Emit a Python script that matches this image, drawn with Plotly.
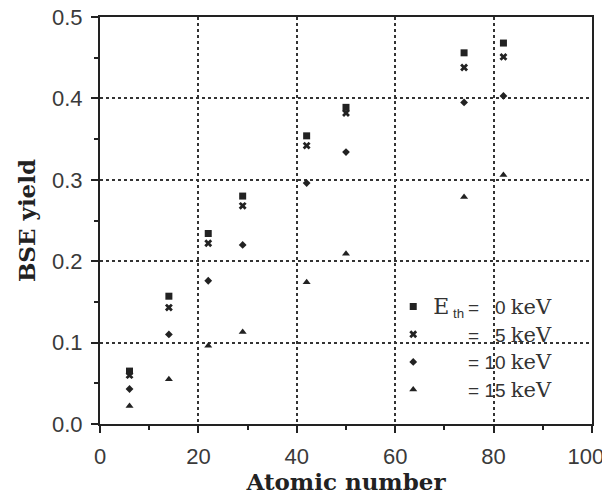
import plotly.graph_objects as go

# Atomic numbers of the targets (C, Si, Ti, Cu, Mo, Sn, W, Pb)
atomic_number = [6, 14, 22, 29, 42, 50, 74, 82]

# BSE yield for each threshold energy
yield_0keV = [0.065, 0.157, 0.234, 0.280, 0.354, 0.389, 0.456, 0.468]
yield_5keV = [0.060, 0.143, 0.222, 0.268, 0.342, 0.382, 0.438, 0.451]
yield_10keV = [0.043, 0.110, 0.176, 0.220, 0.296, 0.334, 0.395, 0.403]
yield_15keV = [0.022, 0.055, 0.096, 0.113, 0.174, 0.209, 0.279, 0.306]

threshold_keV = ["0", "5", "10", "15"]

x_ticks = [0, 20, 40, 60, 80, 100]
x_tick_labels = ["0", "20", "40", "60", "80", "100\u2007"]
y_ticks = [0.0, 0.1, 0.2, 0.3, 0.4, 0.5]

E_STYLE = "font-family:DejaVu Serif;font-size:22px"
KEV_STYLE = "font-family:DejaVu Serif;font-size:21px"
HIDE = "color:rgba(0,0,0,0)"


def legend_label(i, e):
    e_th = f"<span style='{E_STYLE}'>E</span>\u2009<sub>th</sub>\u2009"
    prefix = e_th if i == 0 else f"<span style='{HIDE}'>{e_th}</span>"
    pad = f"<span style='{HIDE}'>1</span>" if len(e) == 1 else ""
    return f"{prefix}= {pad}{e} <span style='{KEV_STYLE}'>keV</span>"


series_names = [legend_label(i, e) for i, e in enumerate(threshold_keV)]
series_values = [yield_0keV, yield_5keV, yield_10keV, yield_15keV]
symbols = ["square", "x", "diamond", "triangle-up"]
sizes = [7, 7, 6, 7]

fig = go.Figure()
for name, vals, sym, sz in zip(series_names, series_values, symbols, sizes):
    fig.add_trace(go.Scatter(
        x=atomic_number, y=vals, mode="markers", name=name,
        marker=dict(symbol=sym, size=sz, color="#222222",
                    line=dict(width=0)),
    ))

axis_common = dict(
    showline=True, mirror=True, linecolor="#222222", linewidth=2,
    ticks="outside", ticklen=7, tickwidth=1.5, tickcolor="#222222",
    showgrid=True, gridcolor="#333333", gridwidth=1.5, griddash="dot",
    zeroline=False, automargin=False,
    tickfont=dict(family="Liberation Sans", size=22, color="#3a3a3a"),
)

fig.update_xaxes(
    **axis_common, range=[0, 100], tickvals=x_ticks, ticktext=x_tick_labels,
    minor=dict(ticks="outside", ticklen=4, tickwidth=1.5, dtick=10,
               tickcolor="#222222", showgrid=False),
    ticklabelstandoff=5, ticklabeloverflow="allow",
    title=dict(text="Atomic number", standoff=8,
               font=dict(family="DejaVu Serif", size=23, color="#222222",
                         weight="bold")),
)
fig.update_yaxes(
    **axis_common, range=[0, 0.5], tickvals=y_ticks, tickformat=".1f",
    minor=dict(ticks="outside", ticklen=4, tickwidth=1.5, dtick=0.05,
               tickcolor="#222222", showgrid=False),
    ticklabelstandoff=4, ticklabeloverflow="allow",
    title=dict(text="BSE yield", standoff=10,
               font=dict(family="DejaVu Serif", size=23, color="#222222",
                         weight="bold")),
)

fig.update_layout(
    width=602, height=495,
    margin=dict(l=100, r=10, t=17, b=71),
    plot_bgcolor="white", paper_bgcolor="white",
    showlegend=True,
    legend=dict(x=0.596, y=0.335, xanchor="left", yanchor="top",
                bgcolor="rgba(0,0,0,0)",
                font=dict(family="Liberation Sans", size=19, color="#333333"),
                itemwidth=30, tracegroupgap=0),
)

fig.write_html("out.html",
               config={"displayModeBar": False},
               post_script="document.body.style.margin='0';"
                           "document.body.style.overflow='hidden';")
